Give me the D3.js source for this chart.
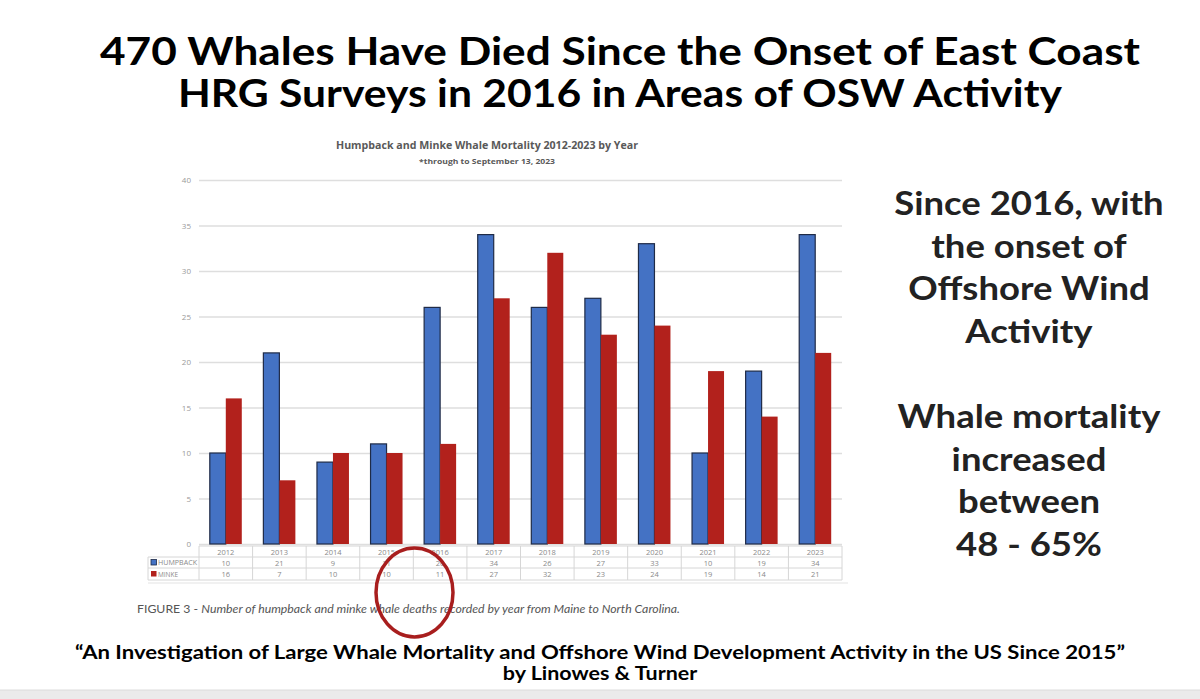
<!DOCTYPE html>
<html>
<head>
<meta charset="utf-8">
<script src="https://cdn.jsdelivr.net/npm/d3@7"></script>
<style>
  html, body { margin: 0; padding: 0; background: #fff; }
  svg { display: block; }
</style>
</head>
<body>
<div id="figure"></div>
<script>
(function() {
    'use strict';

    // values
    var years = ['2012', '2013', '2014', '2015', '2016', '2017', '2018', '2019', '2020', '2021', '2022', '2023'];
    var humpback = [10, 21, 9, 11, 26, 34, 26, 27, 33, 10, 19, 34];
    var minke = [16, 7, 10, 10, 11, 27, 32, 23, 24, 19, 14, 21];
    var seriesNames = ['HUMPBACK', 'MINKE'];
    var yTicks = [0, 5, 10, 15, 20, 25, 30, 35, 40];

    var titleLines = ['470 Whales Have Died Since the Onset of East Coast', 'HRG Surveys in 2016 in Areas of OSW Activity'];
    var sideLines = ['Since 2016, with', 'the onset of', 'Offshore Wind', 'Activity', '', 'Whale mortality', 'increased', 'between', '48 - 65%'];
    var citeLines = ['\u201CAn Investigation of Large Whale Mortality and Offshore Wind Development Activity in the US Since 2015\u201D', 'by Linowes & Turner'];

    var W = 1200, H = 699;
    var blue = '#4472C4', red = '#B2211C';

    var svg = d3.select('#figure').append('svg')
        .attr('width', W).attr('height', H);

    svg.append('rect').attr('width', W).attr('height', H).attr('fill', '#fff');

    // stretch/squeeze a text node to the width seen on the slide
    function fit(sel, width) {
        sel.attr('textLength', width).attr('lengthAdjust', 'spacingAndGlyphs');
    }
    // widen by a factor (the slide font is a wide geometric face)
    function widen(sel, k) {
        sel.each(function() {
            var w = this.getComputedTextLength();
            if (w > 0) fit(d3.select(this), w * k);
        });
    }

    // big headline
    svg.append('g').selectAll('text')
        .data(titleLines)
        .enter()
        .append('text')
            .attr('x', 620)
            .attr('y', function(d, i) { return 65 + i * 42; })
            .attr('text-anchor', 'middle')
            .attr('font-family', 'Lato, sans-serif')
            .attr('font-weight', 700)
            .attr('font-size', 39)
            .attr('fill', '#000')
            .text(function(d) { return d; })
            .each(function(d, i) { fit(d3.select(this), i === 0 ? 1040 : 884); });

    // chart geometry
    var left = 199, right = 842, top = 180, bottom = 544;

    var x = d3.scaleBand().domain(years).range([left, right]).padding(0);
    var xi = d3.scaleBand().domain(seriesNames).range([0, x.bandwidth()]).paddingInner(0).paddingOuter(0.675);
    var y = d3.scaleLinear().domain([0, 40]).range([bottom, top]);

    // chart title
    svg.append('text')
        .attr('x', 487).attr('y', 149)
        .attr('text-anchor', 'middle')
        .attr('font-family', '"Open Sans", sans-serif')
        .attr('font-weight', 700)
        .attr('font-size', 10.5)
        .attr('fill', '#595959')
        .text('Humpback and Minke Whale Mortality 2012-2023 by Year')
        .call(fit, 302);
    svg.append('text')
        .attr('x', 487).attr('y', 164)
        .attr('text-anchor', 'middle')
        .attr('font-family', '"Open Sans", sans-serif')
        .attr('font-weight', 700)
        .attr('font-size', 7.5)
        .attr('fill', '#595959')
        .text('*through to September 13, 2023')
        .call(fit, 136);

    // y axis with gridlines
    var yAxis = svg.append('g')
        .attr('transform', 'translate(' + left + ',0)')
        .call(d3.axisLeft(y).tickValues(yTicks).tickSize(-(right - left)).tickPadding(8));
    yAxis.select('.domain').remove();
    yAxis.selectAll('line').attr('stroke', '#dedede').attr('stroke-width', 1.5);
    yAxis.selectAll('text')
        .attr('font-family', '"Open Sans", sans-serif')
        .attr('font-size', 8)
        .attr('fill', '#9a9a9a');

    // bars
    var rows = years.map(function(yr, i) {
        return { year: yr, values: [
            { key: 'HUMPBACK', v: humpback[i] },
            { key: 'MINKE', v: minke[i] }
        ] };
    });

    var groups = svg.selectAll('.year')
        .data(rows)
        .enter()
        .append('g')
            .attr('class', 'year')
            .attr('transform', function(d) { return 'translate(' + x(d.year) + ',0)'; });

    groups.selectAll('rect')
        .data(function(d) { return d.values; })
        .enter()
        .append('rect')
            .attr('x', function(d) { return xi(d.key); })
            .attr('y', function(d) { return y(d.v); })
            .attr('width', xi.bandwidth())
            .attr('height', function(d) { return y(0) - y(d.v); })
            .attr('fill', function(d) { return d.key === 'HUMPBACK' ? blue : red; })
            .attr('stroke', function(d) { return d.key === 'HUMPBACK' ? '#1f2b47' : 'none'; })
            .attr('stroke-width', 1.2);

    // data table under the plot
    var rowTop = [546, 557, 568, 580];
    var tableColor = '#d6d6d6';
    var table = svg.append('g');

    // horizontal rules
    table.selectAll('.hrule')
        .data(rowTop)
        .enter()
        .append('line')
            .attr('x1', function(d, i) { return i === 0 ? left : 148; })
            .attr('x2', right)
            .attr('y1', function(d) { return d; })
            .attr('y2', function(d) { return d; })
            .attr('stroke', tableColor);
    // faint shadow below table
    table.append('line')
        .attr('x1', 148).attr('x2', right + 6)
        .attr('y1', 583).attr('y2', 583)
        .attr('stroke', '#ececec').attr('stroke-width', 1.5);

    // vertical rules
    var vx = years.map(function(yr) { return x(yr); }).concat([right]);
    table.selectAll('.vrule')
        .data(vx)
        .enter()
        .append('line')
            .attr('x1', function(d) { return d; })
            .attr('x2', function(d) { return d; })
            .attr('y1', rowTop[0])
            .attr('y2', rowTop[3])
            .attr('stroke', tableColor);
    table.append('line')
        .attr('x1', 148).attr('x2', 148)
        .attr('y1', rowTop[1]).attr('y2', rowTop[3])
        .attr('stroke', tableColor);

    var cellFont = function(sel) {
        sel.attr('font-family', '"Open Sans", sans-serif')
            .attr('font-size', 7.5)
            .attr('fill', '#8a8a8a')
            .attr('text-anchor', 'middle');
    };

    table.selectAll('.yr')
        .data(years)
        .enter()
        .append('text')
            .attr('x', function(d) { return x(d) + x.bandwidth() / 2; })
            .attr('y', 554.5)
            .call(cellFont)
            .text(function(d) { return d; });

    [humpback, minke].forEach(function(vals, r) {
        table.selectAll('.v' + r)
            .data(vals)
            .enter()
            .append('text')
                .attr('x', function(d, i) { return x(years[i]) + x.bandwidth() / 2; })
                .attr('y', 565.5 + r * 11.5)
                .call(cellFont)
                .text(function(d) { return d; });
    });

    // legend keys in the first table column
    var legend = table.selectAll('.key')
        .data(seriesNames)
        .enter()
        .append('g')
            .attr('transform', function(d, i) { return 'translate(151,' + (559.5 + i * 11.5) + ')'; });
    legend.append('rect')
        .attr('width', 5.5).attr('height', 5.5)
        .attr('fill', function(d) { return d === 'HUMPBACK' ? blue : red; })
        .attr('stroke', function(d) { return d === 'HUMPBACK' ? '#1f2b47' : 'none'; })
        .attr('stroke-width', 0.8);
    legend.append('text')
        .attr('x', 7).attr('y', 5.5)
        .attr('font-family', '"Open Sans", sans-serif')
        .attr('font-size', 7.5)
        .attr('fill', '#8a8a8a')
        .text(function(d) { return d; })
        .each(function(d) { fit(d3.select(this), d === 'HUMPBACK' ? 39 : 20); });

    // figure caption
    var cap = svg.append('text')
        .attr('x', 137).attr('y', 613)
        .attr('font-family', 'Lato, sans-serif')
        .attr('font-size', 11.5)
        .attr('fill', '#555');
    cap.append('tspan').text('FIGURE 3 - ');
    cap.append('tspan').attr('font-style', 'italic')
        .text('Number of humpback and minke whale deaths recorded by year from Maine to North Carolina.');
    cap.call(fit, 543);

    // hand-drawn red circle
    svg.append('ellipse')
        .attr('cx', 414.5).attr('cy', 592.5)
        .attr('rx', 38.5).attr('ry', 44.5)
        .attr('fill', 'none')
        .attr('stroke', '#A81E1E')
        .attr('stroke-width', 3.5);

    // side commentary
    svg.append('g').selectAll('text')
        .data(sideLines)
        .enter()
        .append('text')
            .attr('x', 1029)
            .attr('y', function(d, i) { return 215 + i * 42.6; })
            .attr('text-anchor', 'middle')
            .attr('font-family', 'Lato, sans-serif')
            .attr('font-weight', 700)
            .attr('font-size', 32)
            .attr('fill', '#222')
            .text(function(d) { return d; })
            .call(widen, 1.14);

    // citation
    svg.append('g').selectAll('text')
        .data(citeLines)
        .enter()
        .append('text')
            .attr('x', 600)
            .attr('y', function(d, i) { return 659 + i * 21; })
            .attr('text-anchor', 'middle')
            .attr('font-family', 'Lato, sans-serif')
            .attr('font-weight', 700)
            .attr('font-size', 19.5)
            .attr('fill', '#000')
            .text(function(d) { return d; })
            .each(function(d, i) {
                if (i === 0) fit(d3.select(this), 1050);
                else widen(d3.select(this), 1.1);
            });

    // grey strip at the bottom of the screenshot
    svg.append('rect')
        .attr('x', 0).attr('y', 690).attr('width', W).attr('height', 9)
        .attr('fill', '#ebebeb');
    svg.append('line')
        .attr('x1', 0).attr('x2', W).attr('y1', 690).attr('y2', 690)
        .attr('stroke', '#dcdcdc');
})();
</script>
</body>
</html>
